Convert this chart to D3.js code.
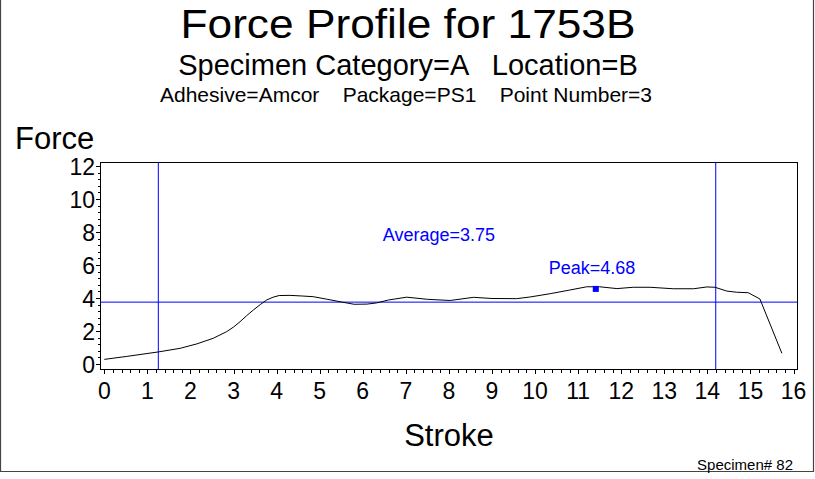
<!DOCTYPE html>
<html>
<head>
<meta charset="utf-8">
<script src="https://cdn.jsdelivr.net/npm/d3@7"></script>
<style>
  html, body { margin: 0; padding: 0; background: #fff; }
  svg { display: block; font-family: "Liberation Sans", Arial, Helvetica, sans-serif; }
</style>
</head>
<body>
<svg id="chart" width="815" height="479"></svg>
<script>
// ---- data ----
const stroke = [0.0, 0.52, 1.25, 1.76, 2.15, 2.53, 2.84, 3.0, 3.15, 3.3, 3.46, 3.62, 3.77, 3.92, 4.06, 4.31, 4.6, 4.85,
  5.16, 5.5, 5.8, 6.1, 6.32, 6.6, 7.02, 7.5, 8.03, 8.57, 9.0, 9.57, 9.88, 10.35, 10.8, 11.2,
  11.5, 11.9, 12.28, 12.67, 13.21, 13.68, 13.99, 14.18, 14.45, 14.68, 14.95, 15.22, 15.73];
const force = [0.28, 0.46, 0.73, 0.95, 1.22, 1.56, 1.96, 2.24, 2.56, 2.92, 3.27, 3.6, 3.88, 4.05, 4.15, 4.16, 4.12, 4.08,
  3.93, 3.76, 3.62, 3.63, 3.70, 3.88, 4.05, 3.92, 3.85, 4.04, 3.97, 3.96, 4.06, 4.26, 4.48, 4.68,
  4.68, 4.57, 4.65, 4.65, 4.56, 4.56, 4.67, 4.65, 4.42, 4.35, 4.32, 3.94, 0.65];
const xTicks = [0,1,2,3,4,5,6,7,8,9,10,11,12,13,14,15,16];
const yTicks = [0,2,4,6,8,10,12];
const average = 3.75;
const peakValue = 4.68;
const peakMarker = [11.41, 4.55];
const startStroke = 1.254;
const endStroke = 14.195;
const titleText = "Force Profile for 1753B";
const subtitle1 = "Specimen Category=A   Location=B";
const subtitle2 = "Adhesive=Amcor    Package=PS1    Point Number=3";
const footnote = "Specimen# 82";

// ---- layout ----
const svg = d3.select("#chart");
const box = {left: 100, right: 797, top: 162, bottom: 369};
const x = d3.scaleLinear().domain([0, 16]).range([104.3, 793.5]);
const y = d3.scaleLinear().domain([0, 12]).range([364, 166]);
const blue = "#0000ff";

// outer frame (left, right, bottom)
svg.append("path").attr("d", "M0.5,0 V471.5 H813.5 V0")
  .attr("fill", "none").attr("stroke", "#444").attr("stroke-width", 1.2);

// titles
svg.append("text").attr("x", 408).attr("y", 38).attr("text-anchor", "middle")
  .attr("font-size", 40).attr("textLength", 455).attr("lengthAdjust", "spacingAndGlyphs").text(titleText);
svg.append("text").attr("x", 408).attr("y", 75).attr("text-anchor", "middle")
  .attr("font-size", 29).style("white-space", "pre").text(subtitle1);
svg.append("text").attr("x", 406).attr("y", 102).attr("text-anchor", "middle")
  .attr("font-size", 21).style("white-space", "pre").text(subtitle2);

// axis labels
svg.append("text").attr("x", 15).attr("y", 149).attr("font-size", 31).text("Force");
svg.append("text").attr("x", 449).attr("y", 446).attr("text-anchor", "middle")
  .attr("font-size", 31).text("Stroke");
svg.append("text").attr("x", 793).attr("y", 470).attr("text-anchor", "end")
  .attr("font-size", 15).text(footnote);

// plot box
svg.append("rect").attr("x", box.left + 0.5).attr("y", box.top + 0.5)
  .attr("width", box.right - box.left).attr("height", box.bottom - box.top)
  .attr("fill", "none").attr("stroke", "#000").attr("stroke-width", 1);

// x axis ticks
const xMinor = d3.range(0, 16.001, 0.2);
const xAxisG = svg.append("g");
xAxisG.selectAll("line").data(xMinor).join("line")
  .attr("x1", d => Math.round(x(d)) + 0.5).attr("x2", d => Math.round(x(d)) + 0.5)
  .attr("y1", box.bottom).attr("y2", d => box.bottom + (Math.abs(d - Math.round(d)) < 1e-6 ? 5 : 4))
  .attr("stroke", "#000");
xAxisG.selectAll("text").data(xTicks).join("text")
  .attr("x", d => x(d)).attr("y", 399).attr("text-anchor", "middle")
  .attr("font-size", 23).text(d => d);

// y axis ticks
const yMinor = d3.range(0, 12.001, 0.4);
const yAxisG = svg.append("g");
yAxisG.selectAll("line").data(yMinor).join("line")
  .attr("y1", d => Math.round(y(d)) + 0.5).attr("y2", d => Math.round(y(d)) + 0.5)
  .attr("x1", box.left).attr("x2", d => box.left - (Math.abs(d / 2 - Math.round(d / 2)) < 1e-6 ? 4 : 2))
  .attr("stroke", "#000");
yAxisG.selectAll("text").data(yTicks).join("text")
  .attr("x", 95).attr("y", d => y(d) + 9).attr("text-anchor", "end")
  .attr("font-size", 23).text(d => d);

// reference lines
svg.append("line").attr("x1", box.left).attr("x2", box.right)
  .attr("y1", y(average)).attr("y2", y(average)).attr("stroke", blue).attr("stroke-width", 1);
[startStroke, endStroke].forEach(s => {
  svg.append("line").attr("x1", x(s)).attr("x2", x(s))
    .attr("y1", box.top).attr("y2", box.bottom).attr("stroke", blue).attr("stroke-width", 1);
});

// curve
const pts = stroke.map((s, i) => [s, force[i]]);
svg.append("path").datum(pts)
  .attr("d", d3.line().x(d => x(d[0])).y(d => y(d[1])).curve(d3.curveLinear))
  .attr("fill", "none").attr("stroke", "#000").attr("stroke-width", 1);

// peak marker
svg.append("rect").attr("x", x(peakMarker[0]) - 3).attr("y", y(peakMarker[1]) - 3)
  .attr("width", 6).attr("height", 6).attr("fill", blue);

// annotations
svg.append("text").attr("x", 439).attr("y", 241).attr("text-anchor", "middle")
  .attr("font-size", 18).attr("fill", blue).text("Average=" + average.toFixed(2));
svg.append("text").attr("x", 592).attr("y", 274).attr("text-anchor", "middle")
  .attr("font-size", 18).attr("fill", blue).text("Peak=" + peakValue.toFixed(2));
</script>
</body>
</html>
